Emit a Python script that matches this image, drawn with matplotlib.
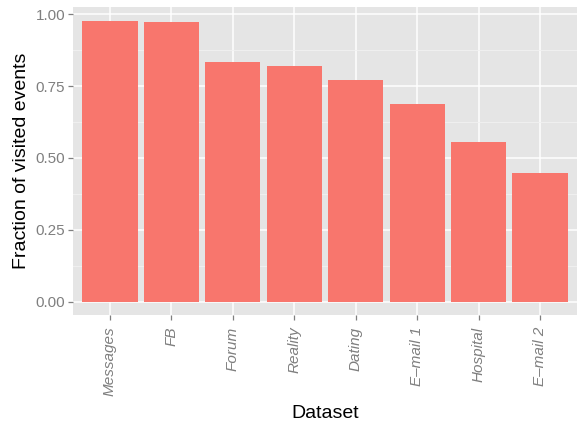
import numpy as np
import matplotlib
matplotlib.use("Agg")
import matplotlib.pyplot as plt
from matplotlib.ticker import MultipleLocator

# data
datasets = ["Messages", "FB", "Forum", "Reality", "Dating", "E\u2013mail 1", "Hospital", "E\u2013mail 2"]
fraction = [0.976, 0.972, 0.833, 0.819, 0.770, 0.686, 0.554, 0.449]

plt.rcParams['font.family'] = ['Liberation Sans', 'DejaVu Sans']

fig = plt.figure(figsize=(5.78, 4.22), dpi=100)
ax = fig.add_axes([73 / 578, 107 / 422, 504 / 578, 308 / 422])

x = np.arange(1, len(datasets) + 1)
ax.set_facecolor("#E5E5E5")
ax.bar(x, fraction, width=0.9, color="#F8766D", zorder=3)

ax.set_xlim(0.4, len(datasets) + 0.6)
top = max(fraction) * 1.05
ax.set_ylim(-max(fraction) * 0.047, top)

ax.yaxis.set_major_locator(MultipleLocator(0.25))
ax.yaxis.set_minor_locator(MultipleLocator(0.125))
ax.set_xticks(x)
ax.set_xticklabels(datasets, rotation=90, ha="center", va="top", style="italic")
ax.set_yticklabels([f"{v:.2f}" for v in ax.get_yticks()])

ax.grid(which="major", color="white", linewidth=1.1, zorder=1)
ax.grid(which="minor", axis="y", color="#F2F2F2", linewidth=0.6, zorder=1)
ax.set_axisbelow(True)

for s in ax.spines.values():
    s.set_visible(False)

ax.tick_params(axis="both", which="major", colors="#7F7F7F", labelsize=11,
               length=3.5, width=0.9, pad=2)
ax.tick_params(axis="x", which="major", pad=5)
ax.tick_params(axis="both", which="minor", length=0)

ax.set_xlabel("Dataset", fontsize=14, labelpad=6)
ax.set_ylabel("Fraction of visited events", fontsize=14, labelpad=4)

fig.savefig("out.png", dpi=100)
